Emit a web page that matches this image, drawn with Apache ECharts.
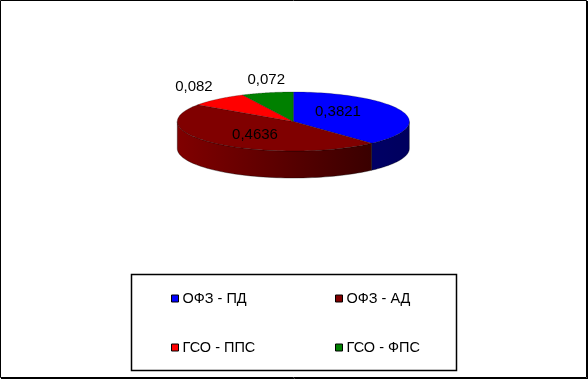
<!DOCTYPE html>
<html>
<head>
<meta charset="utf-8">
<script src="https://cdn.jsdelivr.net/npm/echarts@6/dist/echarts.min.js"></script>
<style>
html,body{margin:0;padding:0;background:#fff;}
#main{width:588px;height:379px;}
</style>
</head>
<body>
<div id="main"></div>
<script>
// ---- data ----
var categories = ['ОФЗ - ПД', 'ОФЗ - АД', 'ГСО - ППС', 'ГСО - ФПС'];
var values = [0.3821, 0.4636, 0.082, 0.072];
var labels = ['0,3821', '0,4636', '0,082', '0,072'];

// ---- styles ----
var topColors = ['#0000FF', '#800000', '#FF0000', '#008000'];
var sideColors = [['#000088', '#00005e'], ['#800000', '#2c0000'], ['#cc0000', '#800000'], ['#006000', '#003000']];

// ---- geometry (layout) ----
var CX = 293.3, CY = 121.5, RX = 116, RY = 29.5, DEPTH = 27;
var total = values.reduce(function (a, b) { return a + b; }, 0);

function pt(theta, f, dy) {
  return [CX + RX * f * Math.sin(theta), CY - RY * f * Math.cos(theta) + (dy || 0)];
}

function makeRender(idx) {
  return function (params, api) {
    var v = api.value(0);
    var start = 0;
    for (var k = 0; k < idx; k++) start += values[k];
    var a0 = start / total * 2 * Math.PI;
    var a1 = (start + v) / total * 2 * Math.PI;
    var children = [];
    // side (front half only: angles in [PI/2, 3PI/2])
    var s0 = Math.max(a0, Math.PI / 2), s1 = Math.min(a1, 3 * Math.PI / 2);
    if (s1 > s0) {
      var pts = [], n = 60, j;
      for (j = 0; j <= n; j++) pts.push(pt(s0 + (s1 - s0) * j / n, 1, 0));
      for (j = n; j >= 0; j--) pts.push(pt(s0 + (s1 - s0) * j / n, 1, DEPTH));
      children.push({
        type: 'polygon',
        shape: { points: pts },
        style: {
          fill: new echarts.graphic.LinearGradient(CX - RX, 0, CX + RX, 0, [
            { offset: 0, color: sideColors[idx][0] },
            { offset: 1, color: sideColors[idx][1] }
          ], true),
          stroke: 'rgba(0,0,0,0.6)', lineWidth: 0.6
        }
      });
    }
    // top face
    var tp = [[CX, CY]], m = 80;
    for (var i = 0; i <= m; i++) tp.push(pt(a0 + (a1 - a0) * i / m, 1, 0));
    children.push({
      type: 'polygon',
      shape: { points: tp },
      style: { fill: topColors[idx], stroke: 'rgba(0,0,0,0.45)', lineWidth: 0.5 }
    });
    // label
    var mid = (a0 + a1) / 2;
    var frac = v / total;
    var lp, align, vAlign;
    if (frac >= 0.1) {
      lp = pt(mid, 0.45, -2 - 7 * Math.cos(mid));
      lp[0] -= 4;
      align = 'center'; vAlign = 'middle';
    } else {
      var rim = pt(mid, 1, 0);
      var s = Math.sin(mid);
      if (s < -0.4) { align = 'right'; lp = [rim[0] - 5, rim[1] - 5]; }
      else if (s > 0.4) { align = 'left'; lp = [rim[0] + 5, rim[1] - 5]; }
      else { align = 'center'; lp = [rim[0] - 1, rim[1] - 5]; }
      vAlign = 'bottom';
    }
    children.push({
      type: 'text',
      x: lp[0], y: lp[1],
      style: {
        text: labels[idx], fill: '#000', font: '15px "Liberation Sans", Arial, sans-serif',
        align: align, verticalAlign: vAlign
      },
      z2: 10
    });
    return { type: 'group', children: children };
  };
}

var series = categories.map(function (name, idx) {
  return {
    type: 'custom',
    name: name,
    coordinateSystem: 'none',
    renderItem: makeRender(idx),
    data: [[values[idx]]],
    itemStyle: { color: topColors[idx] },
    silent: true,
    animation: false
  };
});

var legendPos = [[171, 291], [335, 291], [171, 340], [335, 340]];
var legends = categories.map(function (name, idx) {
  return {
    data: [name],
    left: legendPos[idx][0], top: legendPos[idx][1],
    padding: 0,
    icon: 'rect', itemWidth: 7, itemHeight: 7,
    itemStyle: { borderColor: '#000', borderWidth: 1 },
    textStyle: { fontFamily: '"Liberation Sans", Arial, sans-serif', fontSize: 14.5, color: '#000', padding: [0, 0, 0, -1] },
    selectedMode: false
  };
});

var chart = echarts.init(document.getElementById('main'), null, { renderer: 'canvas' });
chart.setOption({
  backgroundColor: '#fff',
  animation: false,
  legend: legends,
  graphic: [
    { type: 'rect', shape: { x: 0.5, y: 0.5, width: 586, height: 377 }, style: { fill: 'none', stroke: '#000', lineWidth: 1 }, z: -1 },
    { type: 'line', shape: { x1: 587.5, y1: 1, x2: 587.5, y2: 379 }, style: { stroke: '#000', lineWidth: 1 }, z: -1 },
    { type: 'line', shape: { x1: 1, y1: 378.5, x2: 588, y2: 378.5 }, style: { stroke: '#000', lineWidth: 1 }, z: -1 },
    { type: 'rect', shape: { x: 131.5, y: 274.5, width: 325, height: 96 }, style: { fill: '#fff', stroke: '#000', lineWidth: 1.5 }, z: -1 }
  ],
  series: series
});
</script>
</body>
</html>
